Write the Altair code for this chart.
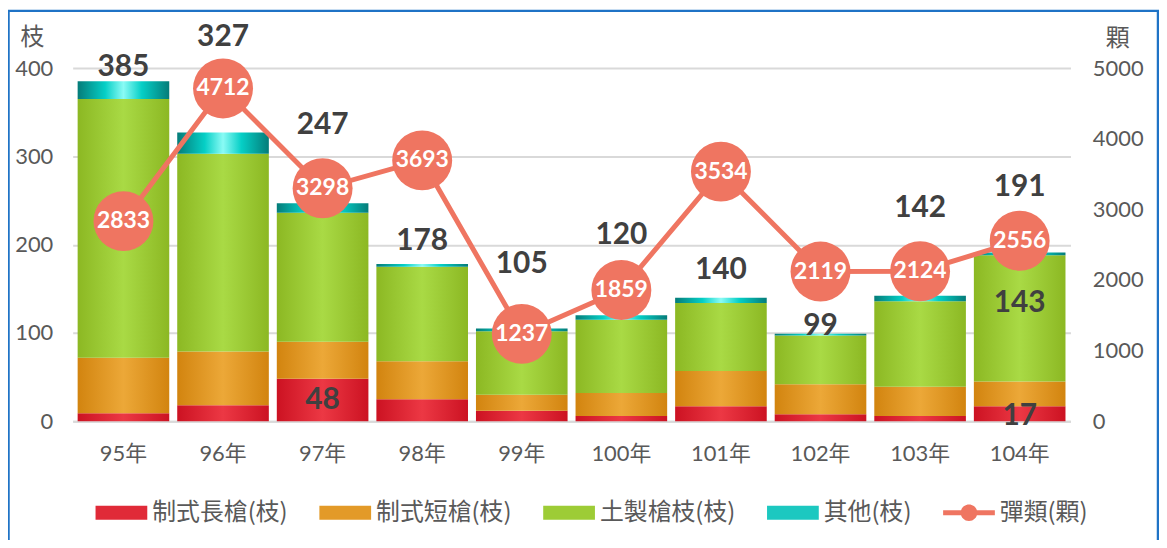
import altair as alt
import pandas as pd

# ---------------- data ----------------
years = ["95年", "96年", "97年", "98年", "99年", "100年", "101年", "102年", "103年", "104年"]
long_guns = [9, 18, 48, 25, 12, 6, 17, 8, 6, 17]          # 制式長槍(枝)
short_guns = [63, 61, 42, 43, 18, 26, 40, 34, 33, 28]     # 制式短槍(枝)
homemade = [293, 224, 146, 107, 72, 83, 77, 55, 97, 143]  # 土製槍枝(枝)
others = [20, 24, 11, 3, 3, 5, 6, 2, 6, 3]                # 其他(枝)
ammo = [2833, 4712, 3298, 3693, 1237, 1859, 3534, 2119, 2124, 2556]  # 彈類(顆)

bar_series = ["制式長槍(枝)", "制式短槍(枝)", "土製槍枝(枝)", "其他(枝)"]
line_series = "彈類(顆)"

# label placement (pixel offsets, kept apart from the values)
total_label_dy = [-14, -96, -79, -23, -65, -81, -28, -8, -88, -66]
segment_labels = [("97年", "制式長槍(枝)"), ("104年", "制式長槍(枝)"), ("104年", "土製槍枝(枝)")]
segment_label_dy = [0, 2, -15]

# ---------------- styles ----------------
NUM_FONT = "Lato"
CJK_FONT = "Noto Sans CJK TC"
GRAY = "#595959"
DARK = "#404040"
LINE_COLOR = "#EF7561"

legend_colors = ["#E02A38", "#E39A28", "#9DCC36", "#1CC8C0", LINE_COLOR]
rect_path = "M-1,-0.27H1V0.27H-1Z"
line_path = ("M-1,-0.1H1V0.1H-1Z "
             "M-0.32,0A0.32,0.32,0,1,1,0.32,0A0.32,0.32,0,1,1,-0.32,0Z")


def hgrad(edge, center, mid=None):
    stops = [{"offset": 0, "color": edge}]
    if mid:
        stops.append({"offset": 0.3, "color": mid})
    stops.append({"offset": 0.5, "color": center})
    if mid:
        stops.append({"offset": 0.7, "color": mid})
    stops.append({"offset": 1, "color": edge})
    return {"gradient": "linear", "x1": 0, "y1": 0, "x2": 1, "y2": 0, "stops": stops}


gradients = {
    "制式長槍(枝)": hgrad("#CC1222", "#EC3844"),
    "制式短槍(枝)": hgrad("#D2840F", "#ECA838"),
    "土製槍枝(枝)": hgrad("#8CB823", "#A9DA45"),
    "其他(枝)": hgrad("#057C79", "#8AFBF5", "#05CFC6"),
}

# ---------------- tables ----------------
series_values = [long_guns, short_guns, homemade, others]
rows = []
for i, yr in enumerate(years):
    for j, s in enumerate(bar_series):
        show = (yr, s) in segment_labels
        dy = segment_label_dy[segment_labels.index((yr, s))] if show else 0
        rows.append({"year": yr, "series": s, "order": j,
                     "value": series_values[j][i], "show": show, "dy": dy})
long_df = pd.DataFrame(rows)

totals_df = pd.DataFrame({
    "year": years,
    "total": [sum(v[i] for v in series_values) for i in range(len(years))],
    "dy": total_label_dy,
})
line_df = pd.DataFrame({"year": years, "ammo": ammo})
legend_df = pd.DataFrame({"series": bar_series + [line_series]})

# ---------------- scales / axes ----------------
x_enc = alt.X(
    "year:N", sort=years,
    scale=alt.Scale(paddingInner=0.08, paddingOuter=0.05),
    axis=alt.Axis(title=None, labelAngle=0, labelFont=f"{NUM_FONT}, {CJK_FONT}",
                  labelFontSize=22, labelColor=GRAY, labelPadding=22,
                  ticks=False, domain=True, domainColor="#D9D9D9", domainWidth=2),
)

y_left_scale = alt.Scale(domain=[0, 400], nice=False)
y_right_scale = alt.Scale(domain=[0, 5000], nice=False)

axis_left = alt.Axis(
    values=[0, 100, 200, 300, 400], format="d", title="枝", titleAngle=0,
    titleX=-41, titleY=-31,
    titleAlign="center", titleBaseline="middle", titleFont=CJK_FONT, titleFontSize=24,
    titleFontWeight="normal", titleColor=GRAY,
    labelFont=NUM_FONT, labelFontSize=22, labelColor=GRAY, labelPadding=20,
    labelFlush=False, domain=False, ticks=False,
    grid=True, gridColor="#D9D9D9", gridWidth=2,
)
axis_right = alt.Axis(
    values=[0, 1000, 2000, 3000, 4000, 5000], format="d", orient="right", title="顆",
    titleAngle=0, titleX=47, titleY=-30, titleAlign="center", titleBaseline="middle",
    titleFont=CJK_FONT, titleFontSize=24, titleFontWeight="normal", titleColor=GRAY,
    labelFont=NUM_FONT, labelFontSize=22, labelColor=GRAY, labelPadding=22,
    labelFlush=False, domain=False, ticks=False, grid=False,
)

# ---------------- bars ----------------
stacked = alt.Chart(long_df).transform_stack(
    stack="value", groupby=["year"], as_=["y0", "y1"],
    sort=[alt.SortField("order", order="ascending")],
)

bar_layers = []
for s in bar_series:
    bar_layers.append(
        stacked.transform_filter(alt.datum.series == s)
        .mark_bar(fill=gradients[s], strokeWidth=0)
        .encode(
            x=x_enc,
            y=alt.Y("y0:Q", scale=y_left_scale, axis=axis_left),
            y2="y1:Q",
        )
    )

segment_text = (
    stacked.transform_filter(alt.datum.show)
    .transform_calculate(mid="(datum.y0 + datum.y1) / 2")
    .mark_text(font=NUM_FONT, fontSize=30, fontWeight="bold", color=DARK,
               baseline="middle", dy=alt.expr("datum.dy"))
    .encode(
        x=x_enc,
        y=alt.Y("mid:Q", scale=y_left_scale, axis=axis_left),
        text="value:Q",
    )
)

total_text = (
    alt.Chart(totals_df)
    .mark_text(font=NUM_FONT, fontSize=30, fontWeight="bold", color=DARK,
               baseline="middle", dy=alt.expr("datum.dy"))
    .encode(
        x=x_enc,
        y=alt.Y("total:Q", scale=y_left_scale, axis=axis_left),
        text="total:Q",
    )
)

bar_group = alt.layer(*bar_layers, segment_text, total_text)

# ---------------- line ----------------
line_base = alt.Chart(line_df).encode(
    x=x_enc,
    y=alt.Y("ammo:Q", scale=y_right_scale, axis=axis_right),
)
line = line_base.mark_line(color=LINE_COLOR, strokeWidth=5)
circles = line_base.mark_point(filled=True, color=LINE_COLOR, opacity=1, size=3630, strokeWidth=0)
circle_text = line_base.mark_text(
    font=NUM_FONT, fontSize=23, fontWeight="bold", color="white", baseline="middle"
).encode(text="ammo:Q")
line_group = alt.layer(line, circles, circle_text)

# ---------------- legend (from invisible points) ----------------
all_series = bar_series + [line_series]
leg = alt.Legend(
    title=None, orient="none", legendX=23, legendY=421, direction="horizontal",
    symbolSize=2704, symbolStrokeWidth=0, labelFont=CJK_FONT, labelFontSize=24,
    labelColor=GRAY, labelOffset=5, columnPadding=31, padding=0, labelLimit=400,
)
legend_layer = alt.Chart(legend_df).mark_point(filled=True, size=0, opacity=1).encode(
    color=alt.Color("series:N", scale=alt.Scale(domain=all_series, range=legend_colors), legend=leg),
    shape=alt.Shape("series:N",
                    scale=alt.Scale(domain=all_series, range=[rect_path] * 4 + [line_path]),
                    legend=leg),
)

# ---------------- frame ----------------
frame = alt.Chart(pd.DataFrame({"k": [0]})).mark_rect(
    fillOpacity=0, stroke="#1F73C6", strokeWidth=2.5
).encode(
    x=alt.value(-64.5), x2=alt.value(1091), y=alt.value(-57.5), y2=alt.value(520)
)

chart = (
    alt.layer(bar_group, line_group, legend_layer, frame)
    .resolve_scale(y="independent")
    .resolve_axis(y="independent")
    .properties(
        width=1003, height=355,
        autosize=alt.AutoSizeParams(type="none"),
        padding={"left": 65, "top": 59, "right": 89, "bottom": 118},
        background="white",
    )
    .configure_view(strokeWidth=0)
)

chart.save("out.html", embed_options={"renderer": "svg", "actions": False})
